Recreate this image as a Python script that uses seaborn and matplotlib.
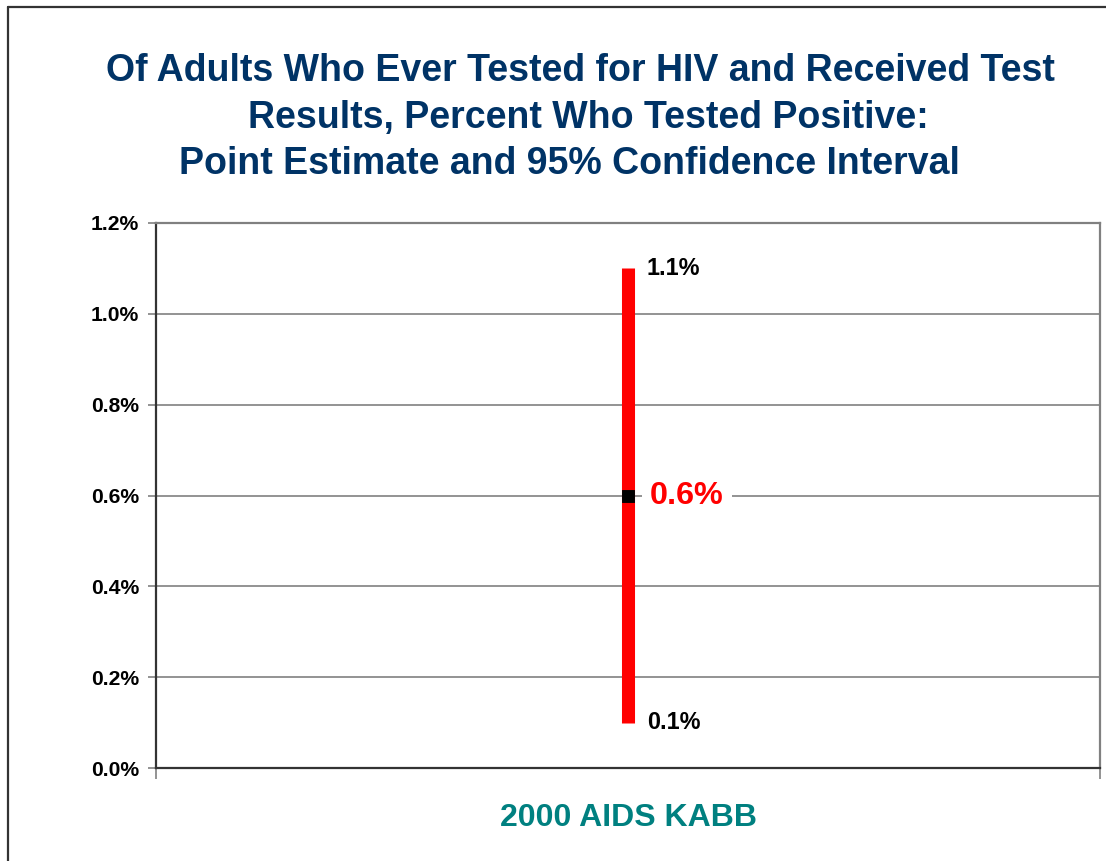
import matplotlib
matplotlib.use("Agg")
import matplotlib.pyplot as plt
import seaborn as sns
import pandas as pd
from matplotlib.lines import Line2D
from matplotlib.ticker import FixedLocator

# ---- data ----
categories = ["2000 AIDS KABB"]
point_estimate = [0.6]
ci_lower = [0.1]
ci_upper = [1.1]
y_ticks = [0.0, 0.2, 0.4, 0.6, 0.8, 1.0, 1.2]
title_lines = [
    "Of Adults Who Ever Tested for HIV and Received Test",
    "Results, Percent Who Tested Positive:",
    "Point Estimate and 95% Confidence Interval",
]

df = pd.DataFrame({"survey": categories, "est": point_estimate,
                   "lo": ci_lower, "hi": ci_upper})

sns.set_theme(style="white")
plt.rcParams["font.family"] = ["Liberation Sans", "DejaVu Sans"]
plt.rcParams["font.weight"] = "bold"

W, H = 1106, 861
fig = plt.figure(figsize=(W / 100, H / 100), dpi=100)
ax = fig.add_axes([156 / W, 1 - 768 / H, (1100 - 156) / W, (768 - 223) / H])

x_pos = list(range(len(categories)))

# CI bar
ax.vlines(x_pos, df["lo"], df["hi"], color="#FF0000", linewidth=9.4, zorder=3)
# point estimate
sns.scatterplot(x=x_pos, y=df["est"], marker="s", s=64, color="black",
                edgecolor="black", ax=ax, zorder=4, legend=False)

for i, row in df.iterrows():
    ax.annotate(f"{row['hi']:.1f}%", (x_pos[i], row["hi"]), xytext=(19, 0),
                textcoords="offset pixels", ha="left", va="center",
                fontsize=16.8, fontweight="bold", color="black")
    ax.annotate(f"{row['lo']:.1f}%", (x_pos[i], row["lo"]), xytext=(19, 0),
                textcoords="offset pixels", ha="left", va="center",
                fontsize=16.8, fontweight="bold", color="black")
    ax.annotate(f"{row['est']:.1f}%", (x_pos[i], row["est"]), xytext=(22, 0),
                textcoords="offset pixels", ha="left", va="center",
                fontsize=23.3, fontweight="bold", color="#FF0000", zorder=5,
                bbox=dict(boxstyle="square,pad=0.25", fc="white", ec="none"))

ax.set_xlim(-0.5, len(categories) - 0.5)
ax.set_ylim(0, 1.2)
ax.set_yticks(y_ticks)
ax.set_yticklabels([f"{v:.1f}%" for v in y_ticks], fontsize=15.2, fontweight="bold",
                   color="black")
ax.yaxis.grid(True, color="#808080", linewidth=1.2)
ax.set_axisbelow(True)

ax.xaxis.set_major_locator(FixedLocator([-0.5, 0.5]))
ax.set_xticklabels([])
ax.tick_params(axis="x", bottom=True, length=8, width=1.2, color="#808080", direction="out")
ax.tick_params(axis="y", left=True, length=6, width=1.2, color="#808080", direction="out", pad=6)

for side in ["left", "bottom"]:
    ax.spines[side].set_color("#333333")
    ax.spines[side].set_linewidth(1.6)
for side in ["top", "right"]:
    ax.spines[side].set_color("#808080")
    ax.spines[side].set_linewidth(1.6)

ax.set_xlabel("")
ax.set_ylabel("")
fig.text(628 / W, 1 - 818 / H, categories[0], ha="center", va="center",
         fontsize=23, fontweight="bold", color="#008080")

# title lines
centers = [580, 588, 569]
ys = [71, 118, 164]
for line, cx, cy in zip(title_lines, centers, ys):
    fig.text(cx / W, 1 - cy / H, line, ha="center", va="center",
             fontsize=27, fontweight="bold", color="#003366")

# outer frame (left and top edges visible)
fig.add_artist(Line2D([8 / W, 8 / W], [0, 1 - 7 / H], transform=fig.transFigure,
                      color="#333333", linewidth=1.6))
fig.add_artist(Line2D([8 / W, 1], [1 - 7 / H, 1 - 7 / H], transform=fig.transFigure,
                      color="#333333", linewidth=1.6))

fig.savefig("out.png", dpi=100, facecolor="white")
